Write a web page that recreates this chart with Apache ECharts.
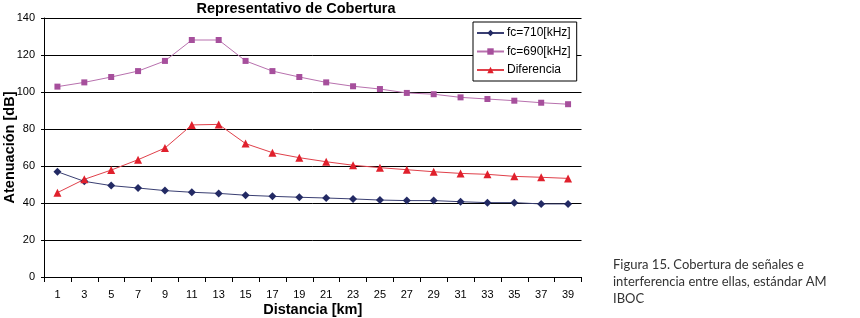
<!DOCTYPE html>
<html>
<head>
<meta charset="utf-8">
<script src="https://cdn.jsdelivr.net/npm/echarts@6/dist/echarts.min.js"></script>
<style>html,body{margin:0;padding:0;background:#fff;}#c{width:860px;height:318px;}</style>
</head>
<body>
<div id="c"></div>
<script>
var categories = ['1','3','5','7','9','11','13','15','17','19','21','23','25','27','29','31','33','35','37','39'];
var fc710 = [56.9,51.7,49.4,48.1,46.7,45.8,45.2,44.2,43.6,43.1,42.7,42.2,41.6,41.3,41.3,40.7,40.2,40.2,39.5,39.5];
var fc690 = [102.9,105.2,108.1,111.3,116.8,128.1,128.1,116.8,111.3,108.1,105.2,103.1,101.6,99.5,98.8,97.1,96.2,95.3,94.2,93.4];
var diferencia = [45.6,52.8,57.8,63.4,69.7,82.2,82.5,72.1,67.2,64.5,62.3,60.4,59.1,58.0,56.9,56.0,55.5,54.4,53.9,53.3];
var seriesNames = ['fc=710[kHz]','fc=690[kHz]','Diferencia'];
var titleText = 'Representativo de Cobertura';
var yName = 'Atenuación [dB]';
var xName = 'Distancia [km]';
var captionLines = ['Figura 15. Cobertura de señales e','interferencia entre ellas, estándar AM','IBOC'];

var chart = echarts.init(document.getElementById('c'), null, {renderer:'canvas'});
var font = 'Liberation Sans, Arial, sans-serif';
chart.setOption({
  animation:false,
  backgroundColor:'#ffffff',
  grid:{left:44, right:278.5, top:18, height:259, containLabel:false, outerBoundsMode:'none'},
  title:{text:titleText, left:296, top:1, padding:0, textAlign:'center',
    textStyle:{fontFamily:font, fontWeight:'bold', fontSize:14.5, color:'#000'}},
  legend:{orient:'vertical', left:473, top:22, itemWidth:27, itemHeight:8, itemGap:6.5,
    backgroundColor:'#fff', borderColor:'#000', borderWidth:1, padding:[5,6,5,3],
    textStyle:{fontFamily:font, fontSize:12, color:'#000', padding:[0,0,0,-2]},
    data:seriesNames},
  xAxis:{type:'category', data:categories, boundaryGap:true,
    name:xName, nameLocation:'middle', nameGap:25, nameMoveOverlap:false,
    nameTextStyle:{fontFamily:font, fontWeight:'bold', fontSize:14.5, color:'#000'},
    axisLine:{lineStyle:{color:'#000', width:1}},
    axisTick:{show:true, alignWithLabel:false, length:5, lineStyle:{color:'#000'}},
    axisLabel:{fontFamily:font, fontSize:11, color:'#000', margin:12, interval:0},
    splitLine:{show:false}},
  yAxis:{type:'value', min:0, max:140, interval:20,
    name:yName, nameLocation:'middle', nameGap:27, nameMoveOverlap:false,
    nameTextStyle:{fontFamily:font, fontWeight:'bold', fontSize:14.5, color:'#000'},
    axisLine:{show:true, lineStyle:{color:'#000', width:1}},
    axisTick:{show:true, length:3, lineStyle:{color:'#000'}},
    axisLabel:{fontFamily:font, fontSize:11, color:'#000', margin:9},
    splitLine:{show:true, lineStyle:{color:'#000', width:1}}},
  series:[
    {name:seriesNames[0], type:'line', data:fc710, symbol:'diamond', symbolSize:8,
      itemStyle:{color:'#232a64'}, lineStyle:{color:'#3a3f72', width:1}},
    {name:seriesNames[1], type:'line', data:fc690, symbol:'rect', symbolSize:6,
      itemStyle:{color:'#a64f9c'}, lineStyle:{color:'#b871ae', width:1}},
    {name:seriesNames[2], type:'line', data:diferencia, symbol:'triangle', symbolSize:8,
      itemStyle:{color:'#e0202c'}, lineStyle:{color:'#e0404a', width:1}}
  ],
  graphic:[
    {type:'text', left:613, top:256, style:{text:captionLines.join('\n'), fontFamily:'Lato, Open Sans, sans-serif', fontSize:13, lineHeight:17, fill:'#333'}}
  ]
});
</script>
</body>
</html>
